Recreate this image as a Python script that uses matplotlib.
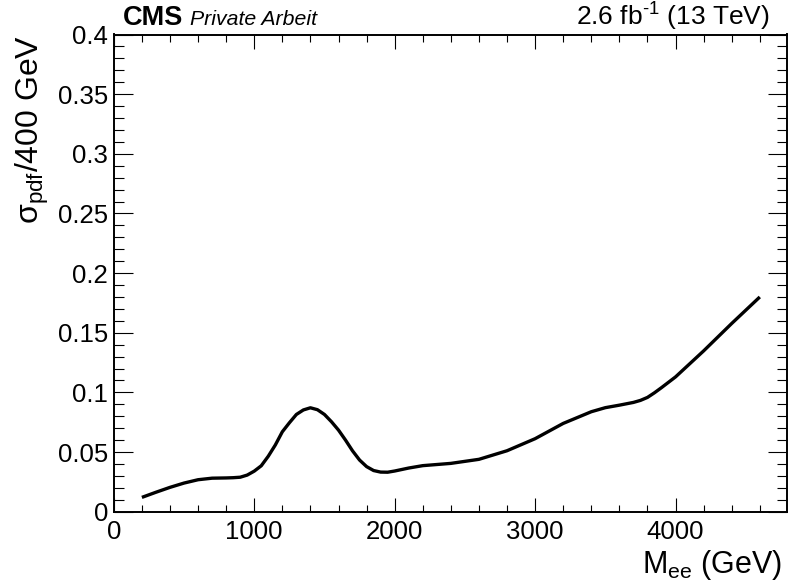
import matplotlib
matplotlib.use("Agg")
import matplotlib.pyplot as plt
from matplotlib.ticker import MultipleLocator, FormatStrFormatter

plt.rcParams['font.family'] = ['Liberation Sans', 'DejaVu Sans']
plt.rcParams['mathtext.fontset'] = 'custom'
plt.rcParams['mathtext.rm'] = 'Liberation Sans'
plt.rcParams['mathtext.it'] = 'Liberation Sans:italic'
plt.rcParams['mathtext.bf'] = 'Liberation Sans:bold'

# PDF uncertainty vs dielectron mass
mass = [200, 300, 400, 500, 600, 700, 800, 850, 900, 950, 1000, 1050, 1100,
        1150, 1200, 1250, 1300, 1350, 1400, 1450, 1500, 1550, 1600, 1650,
        1700, 1750, 1800, 1850, 1900, 1950, 2000, 2100, 2200, 2400, 2600,
        2800, 3000, 3200, 3400, 3500, 3600, 3700, 3750, 3800, 3850, 3900,
        4000, 4200, 4400, 4600]
sigma_pdf = [0.0120, 0.0163, 0.0204, 0.0240, 0.0268, 0.0281, 0.0283, 0.0285,
             0.0289, 0.0307, 0.0340, 0.0385, 0.0465, 0.0559, 0.0670, 0.0745,
             0.0815, 0.0853, 0.0871, 0.0855, 0.0815, 0.0754, 0.0684, 0.0600,
             0.0510, 0.0433, 0.0378, 0.0345, 0.0332, 0.0331, 0.0341, 0.0366,
             0.0386, 0.0405, 0.0439, 0.0511, 0.0612, 0.0740, 0.0838, 0.0872,
             0.0893, 0.0916, 0.0933, 0.0958, 0.0997, 0.1040, 0.1130, 0.1348,
             0.1578, 0.1800]

x_max = 4790
y_max = 0.4

fig = plt.figure(figsize=(7.88, 5.84), dpi=100)
ax = fig.add_axes([113.8 / 788, 1 - 511.7 / 584, (786.5 - 113.8) / 788, (511.7 - 34.5) / 584])

ax.plot(mass, sigma_pdf, color='black', linewidth=2.4,
        solid_capstyle='butt', solid_joinstyle='round')

ax.set_xlim(0, x_max)
ax.set_ylim(0, y_max)

ax.xaxis.set_major_locator(MultipleLocator(1000))
ax.xaxis.set_minor_locator(MultipleLocator(200))
ax.yaxis.set_major_locator(MultipleLocator(0.05))
ax.yaxis.set_minor_locator(MultipleLocator(0.01))
ax.yaxis.set_major_formatter(FormatStrFormatter('%g'))

ax.tick_params(axis='both', which='both', direction='in', top=True, right=True,
               width=0.8, labelsize=18.5, colors='black')
ax.tick_params(axis='x', which='major', length=10, pad=6)
ax.tick_params(axis='x', which='minor', length=5)
ax.tick_params(axis='y', which='major', length=14, pad=4)
ax.tick_params(axis='y', which='minor', length=7)

for sp in ax.spines.values():
    sp.set_linewidth(1.4)

ax.set_xlabel(r'$\mathregular{M_{ee}}$ (GeV)', fontsize=22, loc='right')
ax.set_ylabel(r'$\mathregular{σ_{pdf}}$/400 GeV', fontsize=23, loc='top')
ax.xaxis.set_label_coords(0.9944, -0.076)
ax.yaxis.set_label_coords(-0.093, 1.0)

fig.text(123 / 788, 1 - 25 / 584, 'CMS', fontsize=19.5, fontweight='bold',
         ha='left', va='baseline')
fig.text(190 / 788, 1 - 25 / 584, 'Private Arbeit', fontsize=15.3, style='italic',
         ha='left', va='baseline')
fig.text(770 / 788, 1 - 26 / 584, r'2.6 fb$^{\mathregular{\text{-}1}}$ (13 TeV)', fontsize=19,
         ha='right', va='baseline')

fig.savefig('out.png', dpi=100)
